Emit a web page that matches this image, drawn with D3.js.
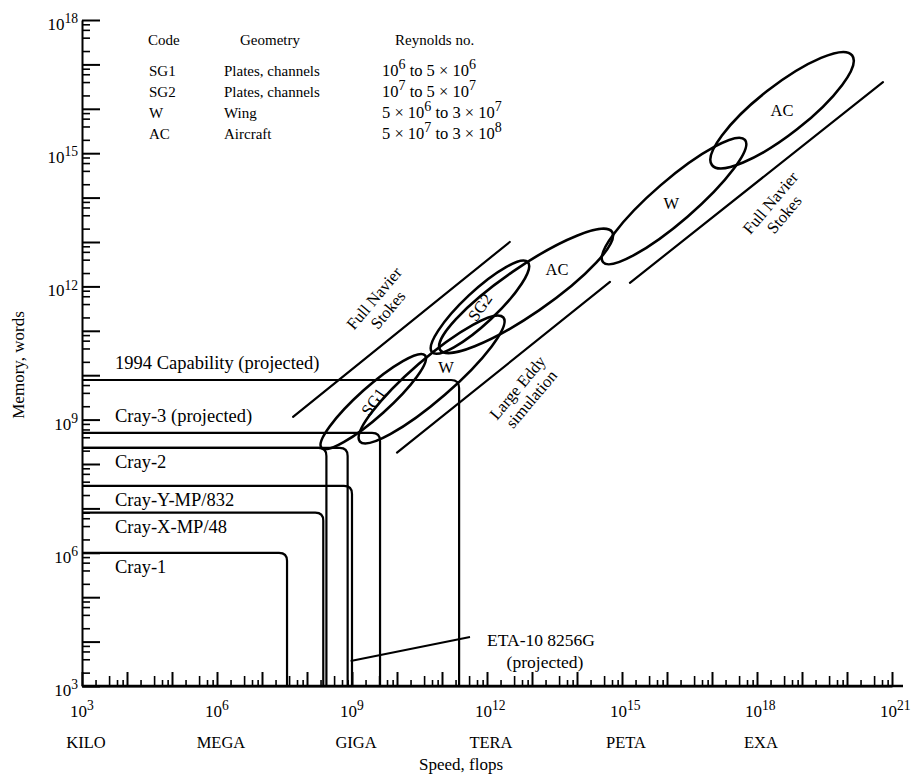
<!DOCTYPE html>
<html>
<head>
<meta charset="utf-8">
<script src="https://cdn.jsdelivr.net/npm/d3@7"></script>
<style>
  body { margin: 0; background: #fff; }
  svg { font-family: "Liberation Serif", "Times New Roman", serif; }
</style>
</head>
<body>
<svg width="921" height="778"></svg>
<script>
// machines: peak speed (flops) and memory (words)
const machines = ["Cray-1", "Cray-X-MP/48", "Cray-Y-MP/832", "Cray-2", "ETA-10 8256G", "Cray-3 (projected)", "1994 Capability (projected)"];
const machineSpeed = [3.6e7, 2.3e8, 1.0e9, 2.7e8, 8.0e8, 4.2e9, 2.4e11];
const machineMemory = [1.0e6, 8.0e6, 3.2e7, 2.3e8, 2.3e8, 5.0e8, 7.8e9];
const machineLabelAbove = [false, false, false, false, null, true, true];

// legend table
const codes = ["SG1", "SG2", "W", "AC"];
const geometries = ["Plates, channels", "Plates, channels", "Wing", "Aircraft"];
const reynolds = ["10^6 to 5 × 10^6", "10^7 to 5 × 10^7", "5 × 10^6 to 3 × 10^7", "5 × 10^7 to 3 × 10^8"];

// requirement regions (ellipses): lower-left and upper-right ends [speed, memory], half width in decades
const regimes = ["SG1", "W", "SG2", "AC", "W", "AC"];
const regimeStart = [[2.1e8, 2.3e8], [1.5e9, 3.2e8], [6.0e10, 3.3e10], [9.1e10, 3.7e10], [3.8e14, 3.5e12], [1.0e17, 5.4e14]];
const regimeEnd = [[4.2e10, 2.8e10], [2.3e12, 2.0e11], [8.1e12, 3.5e12], [6.0e14, 1.7e13], [5.4e17, 2.0e15], [1.3e20, 1.6e17]];
const regimeWidth = [0.33, 0.45, 0.36, 0.52, 0.46, 0.54];
const regimeLabelShift = [0, 0.1, 0, 0.18, -0.02, 0];
const regimeLabelTilt = [true, false, true, false, false, false];

// simulation bands
const bands = [["Full Navier", "Stokes"], ["Large Eddy", "simulation"], ["Full Navier", "Stokes"]];
const bandStart = [[4.9e7, 1.15e9], [1.0e10, 1.8e8], [1.5e15, 1.2e12]];
const bandEnd = [[3.2e12, 1.0e13], [5.4e14, 1.26e12], [6.3e20, 4.0e16]];
const bandLabelSide = [-1, 1, 1];

// axis ticks
const xPowers = [3, 6, 9, 12, 15, 18, 21];
const xPrefixes = ["KILO", "MEGA", "GIGA", "TERA", "PETA", "EXA", ""];
const yPowers = [3, 6, 9, 12, 15, 18];

const svg = d3.select("svg");
const x = d3.scaleLog().domain([1e3, 1e21]).range([82, 892]);
const y = d3.scaleLog().domain([1e3, 1e18]).range([686, 20]);
const x0 = x.range()[0], y0 = y.range()[0];
const decadePx = x(1e4) - x(1e3);

const decades = d3.range(3, 22).map(p => Math.pow(10, p));
const minors = [];
d3.range(3, 21).forEach(p => [2, 4, 6, 8].forEach(k => minors.push(k * Math.pow(10, p))));

// writes "10^6"-style strings as text with superscripts
function rich(sel, str, size, ratio) {
  const parts = str.split(/\^(\d+)/);
  let up = false;
  parts.forEach((p, i) => {
    if (!p) return;
    const t = sel.append("tspan").text(p);
    if (i % 2 === 1) {
      t.attr("font-size", size * ratio);
      if (!up) { t.attr("dy", -size * 0.4); up = true; }
    } else if (up) {
      t.attr("dy", size * 0.4); up = false;
    }
  });
}

// x axis
svg.append("g")
  .attr("transform", `translate(0,${y0})`)
  .call(d3.axisTop(x).tickValues(decades).tickSizeInner(14).tickSizeOuter(0).tickFormat(""))
  .call(g => g.selectAll("line,path").attr("stroke", "#000").attr("stroke-width", 2));
svg.append("g")
  .attr("transform", `translate(0,${y0})`)
  .call(d3.axisTop(x).tickValues(minors).tickSizeInner(7).tickSizeOuter(0).tickFormat(""))
  .call(g => g.select(".domain").remove())
  .call(g => g.selectAll("line").attr("stroke", "#000").attr("stroke-width", 1.6)
    .attr("y2", d => Math.round(d / Math.pow(10, Math.floor(Math.log10(d) + 1e-9))) === 4 ? -10 : -6));
svg.append("line").attr("x1", x0).attr("x2", 903).attr("y1", y0).attr("y2", y0)
  .attr("stroke", "#000").attr("stroke-width", 2.4);

// y axis
svg.append("g")
  .attr("transform", `translate(${x0},0)`)
  .call(d3.axisRight(y).tickValues(decades.filter(d => d <= 1e18)).tickSizeInner(18).tickSizeOuter(0).tickFormat(""))
  .call(g => g.selectAll("line,path").attr("stroke", "#000").attr("stroke-width", 2));
svg.append("g")
  .attr("transform", `translate(${x0},0)`)
  .call(d3.axisRight(y).tickValues(minors.filter(d => d < 1e18)).tickSizeInner(8).tickSizeOuter(0).tickFormat(""))
  .call(g => g.select(".domain").remove())
  .call(g => g.selectAll("line").attr("stroke", "#000").attr("stroke-width", 1.6));

// tick labels
xPowers.forEach((p, i) => {
  const px = x(Math.pow(10, p));
  rich(svg.append("text").attr("x", px - 12).attr("y", 717).attr("font-size", 17), `10^${p}`, 17, 0.8);
  if (xPrefixes[i]) {
    svg.append("text").attr("x", px + 4).attr("y", 748).attr("text-anchor", "middle")
      .attr("font-size", 16.5).text(xPrefixes[i]);
  }
});
yPowers.forEach(p => {
  rich(svg.append("text").attr("x", 78).attr("y", y(Math.pow(10, p)) + 10)
    .attr("text-anchor", "end").attr("font-size", 17), `10^${p}`, 17, 0.8);
});

svg.append("text").attr("x", 461).attr("y", 770).attr("text-anchor", "middle")
  .attr("font-size", 17).text("Speed, flops");
svg.append("text").attr("transform", "translate(24,365) rotate(-90)").attr("text-anchor", "middle")
  .attr("font-size", 17).text("Memory, words");

// legend table
const legend = svg.append("g").attr("font-size", 15);
legend.append("text").attr("x", 148).attr("y", 45).text("Code");
legend.append("text").attr("x", 240).attr("y", 45).text("Geometry");
legend.append("text").attr("x", 395).attr("y", 45).text("Reynolds no.");
codes.forEach((c, i) => {
  const ty = 76 + i * 21;
  legend.append("text").attr("x", 149).attr("y", ty).text(c);
  legend.append("text").attr("x", 224).attr("y", ty).text(geometries[i]);
  rich(legend.append("text").attr("x", 382).attr("y", ty).attr("font-size", 16.5), reynolds[i], 16.5, 0.85);
});

// machine capability outlines
const r = 8;
machines.forEach((m, i) => {
  const mx = x(machineSpeed[i]), my = y(machineMemory[i]);
  svg.append("path")
    .attr("d", `M${x0},${my}H${mx - r}Q${mx},${my} ${mx},${my + r}V${y0}`)
    .attr("fill", "none").attr("stroke", "#000").attr("stroke-width", 2.2);
  if (machineLabelAbove[i] !== null) {
    svg.append("text").attr("x", 115).attr("y", machineLabelAbove[i] ? my - 11 : my + 20)
      .attr("font-size", 18.5).text(m);
  }
});

// ETA-10 pointer
const eta = machines.indexOf("ETA-10 8256G");
svg.append("line").attr("x1", x(machineSpeed[eta]) + 3).attr("y1", 661).attr("x2", 470).attr("y2", 637)
  .attr("stroke", "#000").attr("stroke-width", 1.8);
svg.append("text").attr("x", 541).attr("y", 646).attr("text-anchor", "middle").attr("font-size", 17.5).text("ETA-10 8256G");
svg.append("text").attr("x", 545).attr("y", 668).attr("text-anchor", "middle").attr("font-size", 17.5).text("(projected)");

// simulation bands
bands.forEach((b, i) => {
  const x1 = x(bandStart[i][0]), y1 = y(bandStart[i][1]);
  const x2 = x(bandEnd[i][0]), y2 = y(bandEnd[i][1]);
  svg.append("line").attr("x1", x1).attr("y1", y1).attr("x2", x2).attr("y2", y2)
    .attr("stroke", "#000").attr("stroke-width", 2.2).attr("stroke-linecap", "round");
  const len = Math.hypot(x2 - x1, y2 - y1);
  const ux = (x2 - x1) / len, uy = (y2 - y1) / len;
  const lx = (x1 + x2) / 2 - uy * 33 * bandLabelSide[i];
  const ly = (y1 + y2) / 2 + ux * 33 * bandLabelSide[i];
  const t = svg.append("text").attr("transform", `translate(${lx},${ly}) rotate(-50)`)
    .attr("text-anchor", "middle").attr("font-size", 16.5);
  t.append("tspan").attr("x", 0).attr("dy", -3).text(b[0]);
  t.append("tspan").attr("x", 0).attr("dy", 18).text(b[1]);
});

// requirement ellipses
regimes.forEach((name, i) => {
  const x1 = x(regimeStart[i][0]), y1 = y(regimeStart[i][1]);
  const x2 = x(regimeEnd[i][0]), y2 = y(regimeEnd[i][1]);
  const cx = (x1 + x2) / 2, cy = (y1 + y2) / 2;
  const a = Math.hypot(x2 - x1, y2 - y1) / 2;
  const ang = Math.atan2(y2 - y1, x2 - x1) * 180 / Math.PI;
  svg.append("ellipse")
    .attr("cx", cx).attr("cy", cy).attr("rx", a).attr("ry", regimeWidth[i] * decadePx)
    .attr("transform", `rotate(${ang},${cx},${cy})`)
    .attr("fill", "none").attr("stroke", "#000").attr("stroke-width", 2.6);
  const s = regimeLabelShift[i];
  const lx = cx + (x2 - x1) * s, ly = cy + (y2 - y1) * s;
  svg.append("text")
    .attr("transform", `translate(${lx},${ly}) rotate(${regimeLabelTilt[i] ? -55 : 0})`)
    .attr("text-anchor", "middle").attr("dy", "0.35em").attr("font-size", 16.5).text(name);
});
</script>
</body>
</html>
